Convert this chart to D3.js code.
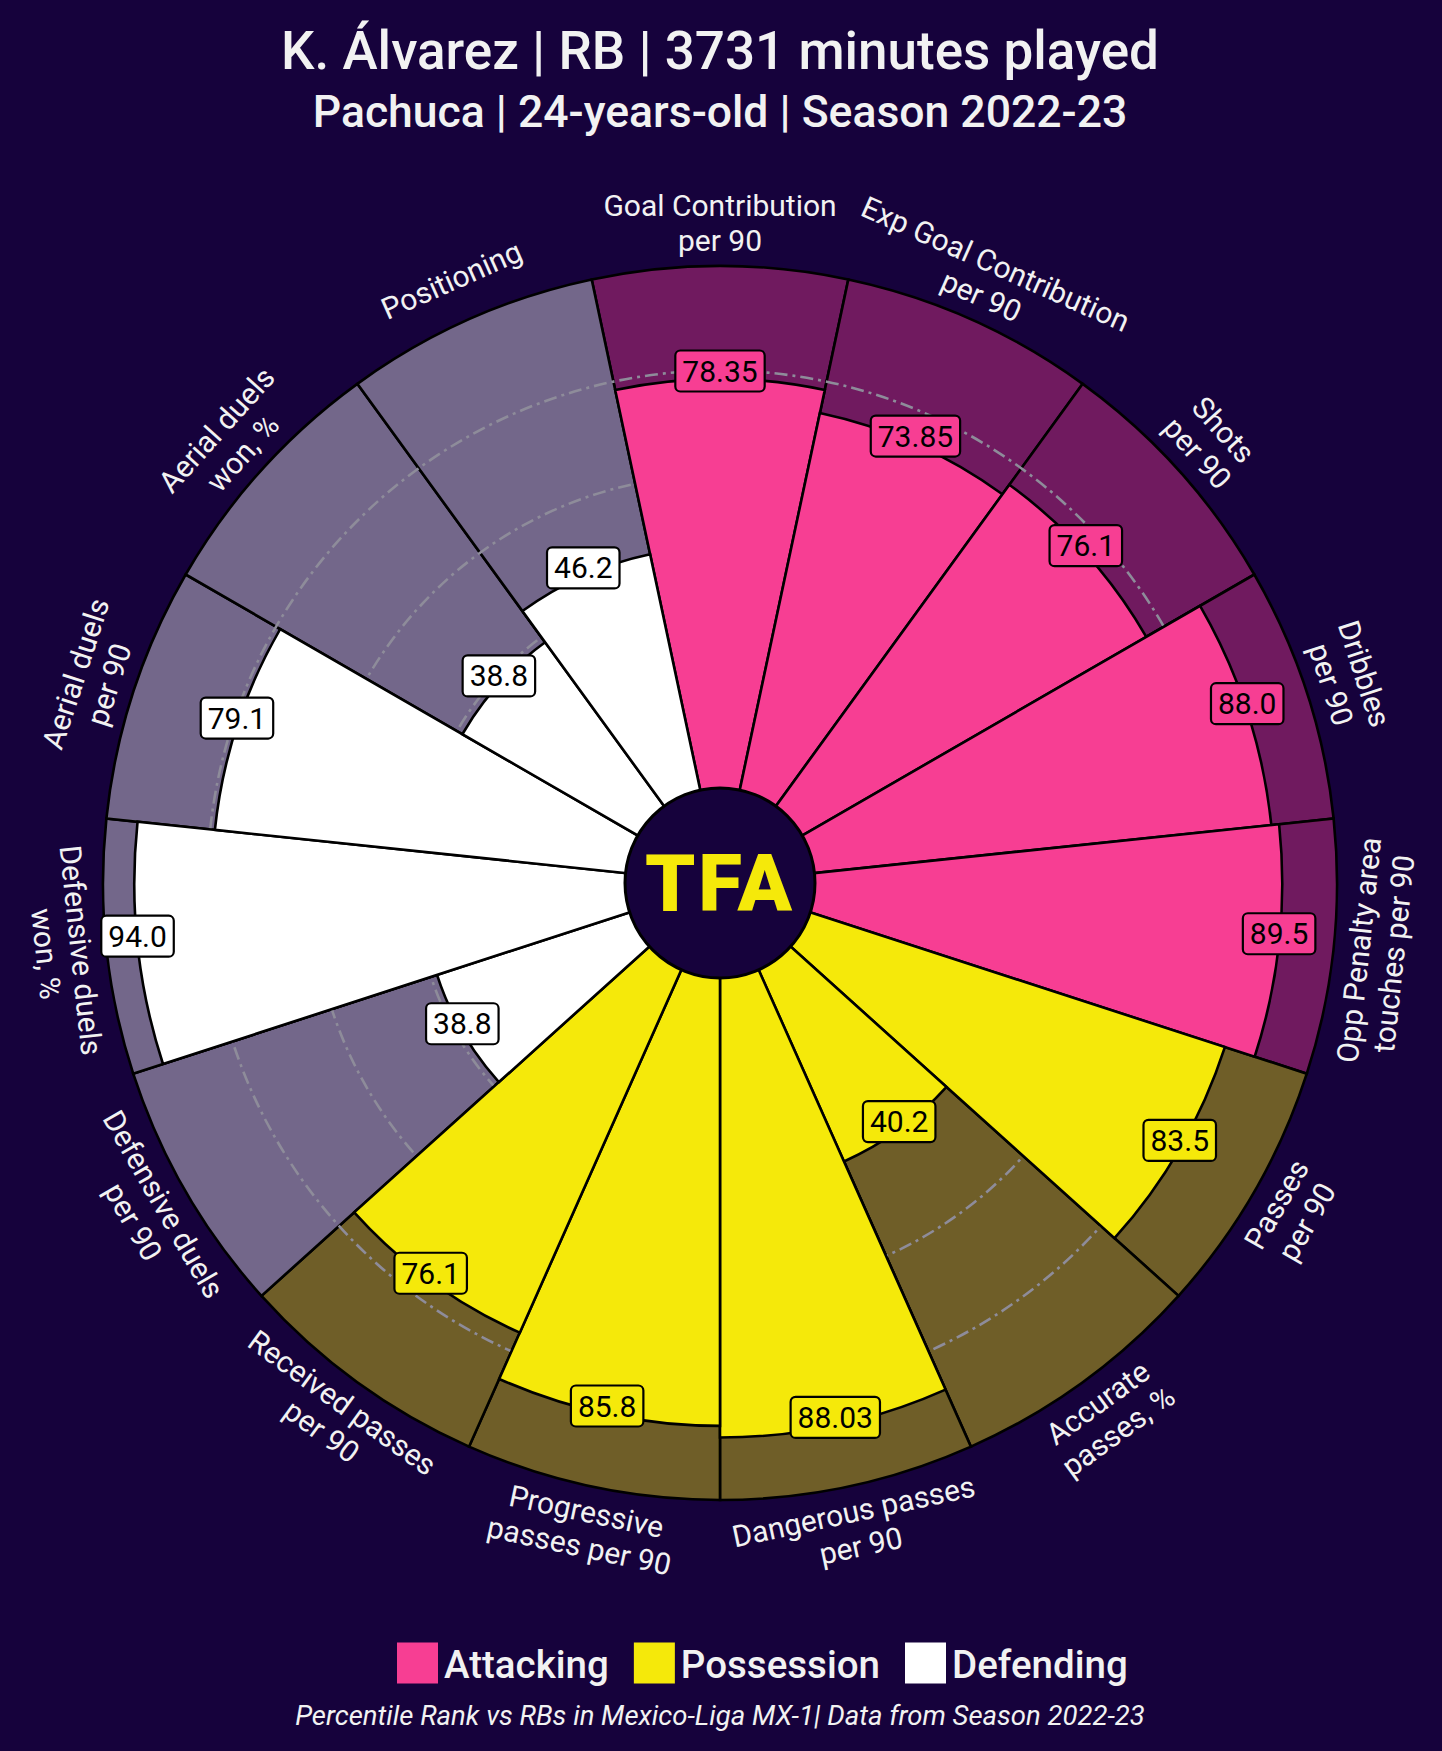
<!DOCTYPE html>
<html><head><meta charset="utf-8">
<script src="https://cdn.jsdelivr.net/npm/d3@7"></script>
<style>html,body{margin:0;padding:0;background:#16023C;} svg{display:block;}</style>
</head><body>
<svg id="chart" width="1442" height="1751"></svg>
<script>
// ---------- data ----------
const params = [
  "Goal Contribution\nper 90", "Exp Goal Contribution\nper 90", "Shots\nper 90", "Dribbles\nper 90",
  "Opp Penalty area\ntouches per 90", "Passes\nper 90", "Accurate\npasses, %", "Dangerous passes\nper 90",
  "Progressive\npasses per 90", "Received passes\nper 90", "Defensive duels\nper 90", "Defensive duels\nwon, %",
  "Aerial duels\nper 90", "Aerial duels\nwon, %", "Positioning"
];
const values = [78.35, 73.85, 76.1, 88.0, 89.5, 83.5, 40.2, 88.03, 85.8, 76.1, 38.8, 94.0, 79.1, 38.8, 46.2];
const groups = ["Attacking","Attacking","Attacking","Attacking","Attacking",
                "Possession","Possession","Possession","Possession","Possession",
                "Defending","Defending","Defending","Defending","Defending"];
const groupNames = ["Attacking", "Possession", "Defending"];
const gridTicks = [20, 40, 60, 80];
const titleText = "K. Álvarez | RB | 3731 minutes played";
const subtitleText = "Pachuca | 24-years-old | Season 2022-23";
const footerText = "Percentile Rank vs RBs in Mexico-Liga MX-1| Data from Season 2022-23";

// ---------- style ----------
const BG = "#16023C";
const color = d3.scaleOrdinal().domain(groupNames).range(["#F73E93", "#F5E90A", "#FFFFFF"]);
const TXT = "#F2F2F2";
const W = 1442, H = 1751, cx = 720, cy = 883;
const rInner = 95, rOuter = 617;

const svg = d3.select("#chart");
svg.append("rect").attr("width", W).attr("height", H).attr("fill", BG);

const r = d3.scaleLinear().domain([0, 100]).range([rInner, rOuter]);
const n = params.length;
const ang = d3.scaleLinear().domain([0, n]).range([0, 2 * Math.PI]);
const half = Math.PI / n;

const g = svg.append("g").attr("transform", `translate(${cx},${cy})`);
const data = params.map((p, i) => ({ p, v: values[i], grp: groups[i], a: ang(i) }));

// background slices
const arcBg = d3.arc().innerRadius(0).outerRadius(r(100))
  .startAngle(d => d.a - half).endAngle(d => d.a + half);
g.selectAll("path.bg").data(data).join("path").attr("class", "bg")
  .attr("d", arcBg)
  .attr("fill", d => color(d.grp)).attr("fill-opacity", 0.4)
  .attr("stroke", "#000").attr("stroke-width", 2.6);

// grid circles
g.selectAll("circle.grid").data(gridTicks).join("circle").attr("class", "grid")
  .attr("r", d => r(d)).attr("fill", "none")
  .attr("stroke", "#8e8c9a").attr("stroke-width", 2.6)
  .attr("stroke-dasharray", "13,5,3,5");

// value slices
const arcVal = d3.arc().innerRadius(0).outerRadius(d => r(d.v))
  .startAngle(d => d.a - half).endAngle(d => d.a + half);
g.selectAll("path.val").data(data).join("path").attr("class", "val")
  .attr("d", arcVal)
  .attr("fill", d => color(d.grp))
  .attr("stroke", "#000").attr("stroke-width", 2.6);

// center logo
g.append("circle").attr("r", rInner).attr("fill", BG).attr("stroke", "#000").attr("stroke-width", 3);
g.append("text").text("TFA").attr("x", 0).attr("y", 28)
  .attr("text-anchor", "middle").attr("font-family", "Roboto, 'DejaVu Sans', sans-serif")
  .attr("font-weight", 900).attr("font-size", 80).attr("letter-spacing", 3)
  .attr("fill", "#F5E90A");

// value labels
const fmt = v => Number.isInteger(v) ? v.toFixed(1) : String(v);
const vl = g.selectAll("g.vl").data(data).join("g").attr("class", "vl")
  .attr("transform", d => `translate(${r(d.v) * Math.sin(d.a)},${-r(d.v) * Math.cos(d.a) - 8})`);
vl.each(function (d) {
  const s = d3.select(this);
  const t = s.append("text").text(fmt(d.v))
    .attr("text-anchor", "middle").attr("dominant-baseline", "central")
    .attr("font-family", "Roboto, sans-serif").attr("font-size", 30).attr("fill", "#000");
  const bb = t.node().getBBox();
  const padX = 7, h = 41;
  s.insert("rect", "text")
    .attr("x", -bb.width / 2 - padX).attr("y", -h / 2)
    .attr("width", bb.width + 2 * padX).attr("height", h)
    .attr("rx", 5).attr("fill", color(d.grp)).attr("stroke", "#000").attr("stroke-width", 2.2);
});

// parameter labels
const rLab = 660, fs = 30, lh = 35;
const pl = g.selectAll("g.pl").data(data).join("g").attr("class", "pl")
  .attr("transform", d => {
    const deg = d.a * 180 / Math.PI;
    let rot = (deg > 90 && deg < 270) ? deg - 180 : (deg >= 270 ? deg - 360 : deg);
    return `translate(${rLab * Math.sin(d.a)},${-rLab * Math.cos(d.a)}) rotate(${rot})`;
  });
pl.each(function (d) {
  const lines = d.p.split("\n");
  const t = d3.select(this).append("text")
    .attr("text-anchor", "middle").attr("font-family", "Roboto, sans-serif")
    .attr("font-size", fs).attr("fill", TXT);
  lines.forEach((ln, k) => {
    t.append("tspan").attr("x", 0).attr("y", (k - (lines.length - 1) / 2) * lh)
      .attr("dominant-baseline", "central").text(ln);
  });
});

// titles
svg.append("text").text(titleText).attr("x", cx).attr("y", 69)
  .attr("text-anchor", "middle").attr("font-family", "Roboto, sans-serif")
  .attr("font-weight", 500).attr("font-size", 53).attr("fill", TXT);
svg.append("text").text(subtitleText).attr("x", cx).attr("y", 127)
  .attr("text-anchor", "middle").attr("font-family", "Roboto, sans-serif")
  .attr("font-weight", 500).attr("font-size", 44.5).attr("fill", TXT);

// legend
const leg = svg.append("g");
let lx = 397;
const ly = 1664, sq = 41;
groupNames.forEach(name => {
  leg.append("rect").attr("x", lx).attr("y", ly - sq / 2 - 1).attr("width", sq).attr("height", sq)
    .attr("fill", color(name));
  const t = leg.append("text").text(name).attr("x", lx + sq + 6).attr("y", ly + 14)
    .attr("font-family", "Roboto, sans-serif").attr("font-weight", 500)
    .attr("font-size", 38.5).attr("fill", TXT);
  lx += sq + 6 + t.node().getComputedTextLength() + 25;
});

// footer
svg.append("text").text(footerText).attr("x", 720).attr("y", 1725)
  .attr("text-anchor", "middle").attr("font-family", "Roboto, sans-serif")
  .attr("font-style", "italic").attr("font-size", 27.5).attr("fill", TXT);
</script>
</body></html>
